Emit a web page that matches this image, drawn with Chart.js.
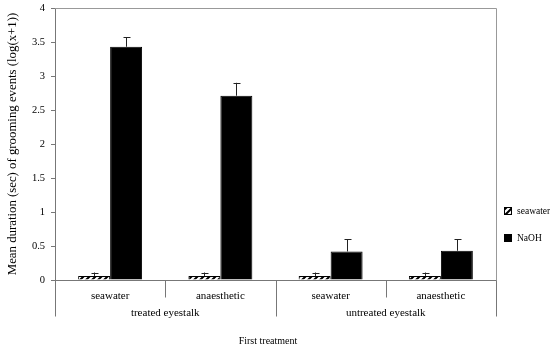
<!DOCTYPE html>
<html>
<head>
<meta charset="utf-8">
<script src="https://cdn.jsdelivr.net/npm/chart.js@4"></script>
<style>
  html, body { margin: 0; padding: 0; background: #fff; }
</style>
</head>
<body>
<canvas id="groomChart" width="550" height="349"></canvas>
<script>
// data
const categories = ['seawater', 'anaesthetic', 'seawater', 'anaesthetic'];
const groups = ['treated eyestalk', 'untreated eyestalk'];
const seawaterMeans = [0.06, 0.06, 0.06, 0.06];
const seawaterErr = [0.05, 0.05, 0.05, 0.05];
const naohMeans = [3.43, 2.71, 0.42, 0.43];
const naohErr = [0.14, 0.19, 0.18, 0.17];
const yTicks = [0, 0.5, 1, 1.5, 2, 2.5, 3, 3.5, 4];

const FONT = '"Liberation Serif", "Times New Roman", serif';

// hatched fill for the seawater bars
function makeHatch() {
  const c = document.createElement('canvas');
  c.width = 6; c.height = 6;
  const g = c.getContext('2d');
  g.fillStyle = '#fff';
  g.fillRect(0, 0, 6, 6);
  g.strokeStyle = '#000';
  g.lineWidth = 2;
  g.beginPath();
  g.moveTo(-1, 7); g.lineTo(7, -1);
  g.moveTo(-4, 4); g.lineTo(4, -4);
  g.moveTo(2, 10); g.lineTo(10, 2);
  g.stroke();
  return g.createPattern(c, 'repeat');
}

const errors = [seawaterErr, naohErr];

const extras = {
  id: 'extras',
  afterDatasetsDraw(chart) {
    const ctx = chart.ctx;
    const x = chart.scales.x, y = chart.scales.y;
    const area = chart.chartArea;
    ctx.save();

    // error bars (upper only)
    ctx.strokeStyle = '#222';
    ctx.lineWidth = 1;
    chart.data.datasets.forEach((ds, di) => {
      chart.getDatasetMeta(di).data.forEach((bar, i) => {
        const top = y.getPixelForValue(ds.data[i]);
        const end = y.getPixelForValue(ds.data[i] + errors[di][i]);
        const bx = Math.round(bar.x) + 0.5;
        ctx.beginPath();
        ctx.moveTo(bx, top);
        ctx.lineTo(bx, end);
        ctx.moveTo(bx - 3, Math.round(end) + 0.5);
        ctx.lineTo(bx + 4, Math.round(end) + 0.5);
        ctx.stroke();
      });
    });

    // plot frame top/right
    ctx.strokeStyle = '#999';
    ctx.beginPath();
    ctx.moveTo(area.left, area.top + 0.5);
    ctx.lineTo(area.right + 0.5, area.top + 0.5);
    ctx.lineTo(area.right + 0.5, area.bottom + 36);
    ctx.stroke();

    // category axis with two-level labels
    const zero = Math.round(y.getPixelForValue(0)) + 0.5;
    const half = (x.getPixelForValue(1) - x.getPixelForValue(0)) / 2;
    ctx.strokeStyle = '#777';
    ctx.beginPath();
    ctx.moveTo(area.left, zero);
    ctx.lineTo(area.right, zero);
    ctx.moveTo(area.left + 0.5, zero);
    ctx.lineTo(area.left + 0.5, zero + 36);
    for (let i = 0; i < categories.length; i++) {
      const edge = Math.round(x.getPixelForValue(i) + half) + 0.5;
      const len = (i % 2 === 1) ? 36 : 17;
      ctx.moveTo(edge, zero);
      ctx.lineTo(edge, zero + len);
    }
    ctx.stroke();

    ctx.fillStyle = '#000';
    ctx.font = '11px ' + FONT;
    ctx.textAlign = 'center';
    ctx.textBaseline = 'middle';
    categories.forEach((c, i) => {
      ctx.fillText(c, x.getPixelForValue(i), zero + 16);
    });
    groups.forEach((g, gi) => {
      const cx = (x.getPixelForValue(gi * 2) + x.getPixelForValue(gi * 2 + 1)) / 2;
      ctx.fillText(g, cx, zero + 33);
    });
    ctx.font = '10px ' + FONT;
    ctx.fillText('First treatment', 268, zero + 61);

    // legend
    const lx = 508;
    ctx.font = '9.5px ' + FONT;
    chart.data.datasets.forEach((ds, di) => {
      const ly = 211 + di * 27;
      ctx.fillStyle = ds.backgroundColor;
      ctx.fillRect(lx - 3, ly - 3, 7, 7);
      ctx.strokeStyle = '#000';
      ctx.strokeRect(lx - 3.5, ly - 3.5, 7, 7);
      ctx.fillStyle = '#000';
      ctx.textAlign = 'left';
      ctx.fillText(ds.label, lx + 9, ly);
    });

    ctx.restore();
  }
};

new Chart(document.getElementById('groomChart').getContext('2d'), {
  type: 'bar',
  data: {
    labels: categories,
    datasets: [
      {
        label: 'seawater',
        data: seawaterMeans,
        backgroundColor: makeHatch(),
        borderColor: '#000',
        borderWidth: 1
      },
      {
        label: 'NaOH',
        data: naohMeans,
        backgroundColor: '#000',
        borderColor: '#000',
        borderWidth: 1
      }
    ]
  },
  options: {
    responsive: false,
    animation: false,
    layout: { padding: { top: 8, right: 54, bottom: 69, left: 0 } },
    datasets: {
      bar: { categoryPercentage: 0.58, barPercentage: 1 }
    },
    plugins: {
      legend: { display: false },
      tooltip: { enabled: false }
    },
    scales: {
      x: { display: false },
      y: {
        min: 0,
        max: 4,
        afterBuildTicks: (s) => { s.ticks = yTicks.map(v => ({ value: v })); },
        afterFit: (s) => { s.width = 55; s.paddingTop = 0; s.paddingBottom = 0; },
        border: { color: '#777' },
        grid: { drawOnChartArea: false, tickLength: 4, color: '#777' },
        ticks: {
          color: '#000',
          padding: 6,
          font: { family: FONT, size: 10.5 },
          callback: (v) => String(v)
        },
        title: {
          display: true,
          text: 'Mean duration (sec) of grooming events (log(x+1))',
          color: '#000',
          padding: { top: 5, bottom: 0 },
          font: { family: FONT, size: 12.8 }
        }
      }
    }
  },
  plugins: [extras]
});
</script>
</body>
</html>
